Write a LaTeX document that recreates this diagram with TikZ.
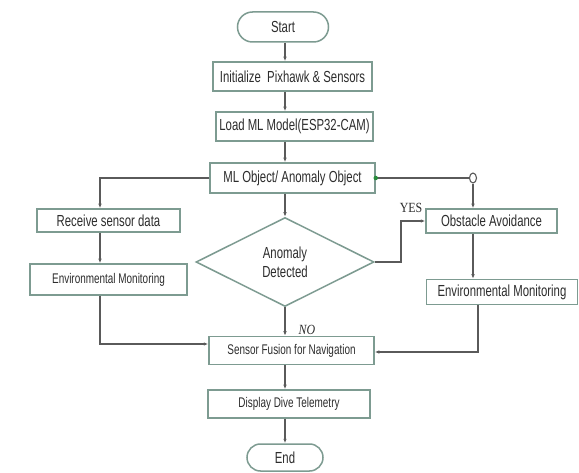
\documentclass[tikz,border=0pt]{standalone}
\usepackage{fontspec}
\setmainfont[FakeStretch=0.71]{Liberation Sans}
\newfontfamily\lblfont[FakeStretch=0.85]{Liberation Serif}
\usetikzlibrary{shapes.geometric,shapes.misc,arrows.meta}
\definecolor{bord}{RGB}{125,155,145}
\definecolor{lin}{RGB}{90,90,90}
\definecolor{txt}{RGB}{45,45,45}
\definecolor{dotg}{RGB}{40,140,60}
\begin{document}
\begin{tikzpicture}[x=1pt,y=-1pt,
 box/.style={draw=bord,line width=1.5pt,fill=white,text=txt,inner sep=0pt,font=\fontsize{16}{17}\selectfont},
 small/.style={font=\fontsize{14}{15}\selectfont},
 term/.style={box,rounded rectangle},
 arr/.style={draw=lin,line width=1.1pt,-{Latex[length=4.5pt,width=3.5pt]}},
 ln/.style={draw=lin,line width=1.1pt},
 lbl/.style={text=txt,inner sep=0pt}]
\useasboundingbox[fill=white] (0,0) rectangle (579,473);
\coordinate (cc) at (285,0);
\coordinate (lc) at (100,0);
\coordinate (rc1) at (473,0);
\coordinate (rc2) at (478,0);
\coordinate (yk) at (401,0);

\node[term,minimum width=91pt,minimum height=30pt] (start) at (283,27) {Start};
\node[box,minimum width=159pt,minimum height=29pt] (init) at (292.5,76.5) {Initialize\ \ Pixhawk \& Sensors};
\node[box,minimum width=157pt,minimum height=29pt] (load) at (294.5,126.5) {Load ML Model(ESP32-CAM)};
\node[box,minimum width=165pt,minimum height=30pt] (mlobj) at (292.5,178) {ML Object/ Anomaly Object};
\node[box,minimum width=143pt,minimum height=23pt] (recv) at (108.5,220.5) {Receive sensor data};
\node[box,small,minimum width=157pt,minimum height=31pt] (envl) at (108.5,279.5) {Environmental Monitoring};
\node[box,diamond,minimum width=178pt,minimum height=89pt,align=center] (dia) at (285,262) {Anomaly\\[2pt]Detected};
\node[box,minimum width=131pt,minimum height=24pt] (obst) at (491.5,221) {Obstacle Avoidance};
\node[box,minimum width=151pt,minimum height=25pt] (envr) at (502,292) {Environmental Monitoring};
\node[box,small,minimum width=165pt,minimum height=28pt] (fusion) at (291.5,350.5) {Sensor Fusion for Navigation};
\node[box,small,minimum width=162pt,minimum height=28pt] (disp) at (289,404) {Display Dive Telemetry};
\node[term,minimum width=76pt,minimum height=27pt] (end) at (285,457.5) {End};

\node[draw=lin,line width=1.1pt,ellipse,minimum width=7pt,minimum height=10pt,inner sep=0pt,fill=white] (junc) at (473,178) {};

\draw[arr] (start.south -| cc) -- (init.north -| cc);
\draw[arr] (init.south -| cc) -- (load.north -| cc);
\draw[arr] (load.south -| cc) -- (mlobj.north -| cc);
\draw[arr] (mlobj.south -| cc) -- (dia.north);
\draw[arr] (mlobj.west) -| (recv.north -| lc);
\draw[arr] (recv.south -| lc) -- (envl.north -| lc);
\draw[arr] (envl.south -| lc) |- ([yshift=6.5pt]fusion.west);
\draw[ln] (mlobj.east) -- (junc.west);
\draw[arr] (junc.south) -- (obst.north -| junc);
\draw[arr] (dia.east) -- (dia.east -| yk) |- (obst.west);
\draw[arr] (obst.south -| rc1) -- (envr.north -| rc1);
\draw[arr] (envr.south -| rc2) |- ([yshift=-1.5pt]fusion.east);
\draw[arr] (dia.south) -- (fusion.north -| dia.south);
\draw[arr] (fusion.south -| cc) -- (disp.north -| cc);
\draw[arr] (disp.south -| cc) -- (end.north -| cc);

\node[circle,fill=dotg,minimum size=4.5pt,inner sep=0pt] (gdot) at (mlobj.east) {};
\node[lbl,font=\lblfont\fontsize{14}{14}\selectfont] (yes) at (411,208) {YES};
\node[lbl,font=\lblfont\itshape\fontsize{14}{14}\selectfont] (no) at (307,330) {NO};
\end{tikzpicture}
\end{document}
